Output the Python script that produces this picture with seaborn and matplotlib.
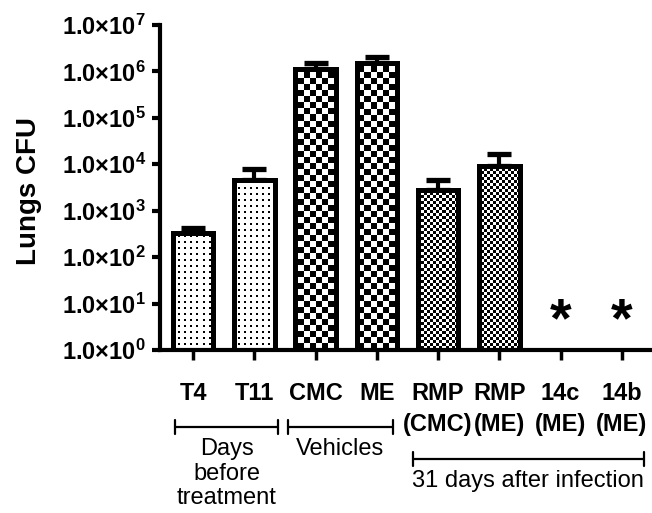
import numpy as np
import pandas as pd
import matplotlib.pyplot as plt
import matplotlib.transforms as mtransforms
from matplotlib.lines import Line2D
import seaborn as sns

# Data (lungs CFU, log scale)
groups = ['T4', 'T11', 'CMC', 'ME', 'RMP\n(CMC)', 'RMP\n(ME)', '14c\n(ME)', '14b\n(ME)']
cfu = [330, 4700, 1.15e6, 1.55e6, 2800, 9300, np.nan, np.nan]
cfu_upper = [430, 8000, 1.55e6, 2.0e6, 4500, 1.7e4, np.nan, np.nan]
fills = ['dots', 'dots', 'checker', 'checker', 'fine', 'fine', None, None]

# Groups with no detectable CFU (marked with an asterisk)
star_groups = [6, 7]
star_level = 2.0

# Group brackets under the axis: (first, last, label)
brackets = [
    (-0.29, 1.39, 'Days\nbefore\ntreatment'),
    (1.55, 3.26, 'Vehicles'),
    (3.59, 7.36, '31 days after infection'),
]

sns.set_style('ticks')
plt.rcParams['font.family'] = ['Liberation Sans', 'DejaVu Sans']
plt.rcParams['mathtext.fontset'] = 'custom'
plt.rcParams['mathtext.rm'] = 'Liberation Sans:bold'
plt.rcParams['mathtext.it'] = 'Liberation Sans:bold'
plt.rcParams['mathtext.bf'] = 'Liberation Sans:bold'
for key in ['text.color', 'axes.labelcolor', 'xtick.color', 'ytick.color', 'axes.edgecolor']:
    plt.rcParams[key] = 'black'

fig = plt.figure(figsize=(6.52, 5.13), dpi=100)
ax = fig.add_axes([160 / 652, 163 / 513, 490 / 652, 325 / 513])

df = pd.DataFrame({'group': groups, 'cfu': cfu})
sns.barplot(data=df, x='group', y='cfu', order=groups, ax=ax, color='white',
            saturation=1, width=0.66, edgecolor='black', linewidth=3.6, zorder=3)

# Upper error bars only
cfu_arr = np.array(cfu)
err_up = np.array(cfu_upper) - cfu_arr
ax.errorbar(np.arange(len(groups)), cfu_arr, yerr=[np.zeros(len(groups)), err_up],
            fmt='none', ecolor='black', elinewidth=3, capsize=8.5, capthick=3.8, zorder=1)

ax.set_yscale('log')


# Fill textures (dots / checkerboards) clipped to each bar
def texture(kind, w, h):
    yy, xx = np.indices((h, w))
    if kind == 'checker':
        black = (xx // 6 + yy // 6) % 2 == 0
    elif kind == 'fine':
        black = (xx // 3 + yy // 3) % 2 == 0
    else:
        black = (xx % 6 < 2) & (yy % 6 < 2)
    return np.where(black, 0.0, 1.0)


fig.canvas.draw()
w_px = int(round(ax.bbox.width))
h_px = int(round(ax.bbox.height))
for p in list(ax.patches):
    if not np.isfinite(p.get_height()):
        continue
    i = int(round(p.get_x() + p.get_width() / 2))
    if fills[i] is None:
        continue
    p.set_facecolor('none')
    im = ax.imshow(texture(fills[i], w_px, h_px), extent=(0, 1, 0, 1), transform=ax.transAxes,
                   aspect='auto', interpolation='nearest', cmap='gray', vmin=0, vmax=1, zorder=2)
    im.set_clip_path(p)

ax.set_xlim(-0.54, 7.46)
ax.set_ylim(1, 1e7)

# Axes styling
ticks = [10 ** k for k in range(8)]
ax.set_yticks(ticks)
ax.set_yticklabels([f'$1.0×10^{{{k}}}$' for k in range(8)])
ax.yaxis.set_minor_locator(plt.NullLocator())
ax.set_xticks(range(len(groups)))
ax.set_xticklabels(groups, fontweight='bold', linespacing=1.45)
ax.tick_params(axis='y', length=6, width=3, labelsize=17, pad=4)
ax.tick_params(axis='x', length=7, width=2.5, labelsize=17, pad=16)
ax.set_xlabel('')
ax.set_ylabel('Lungs CFU', fontsize=20, fontweight='bold')
ax.yaxis.set_label_coords(-0.24, 0.49)
sns.despine(ax=ax)
for side in ['left', 'bottom']:
    ax.spines[side].set_linewidth(3)

# Asterisks for groups below detection
for i in star_groups:
    ax.text(i, star_level, '*', ha='center', va='baseline', fontsize=40, fontweight='bold')

# Group brackets
trans = mtransforms.blended_transform_factory(ax.transData, ax.transAxes)
for k, (x0, x1, label) in enumerate(brackets):
    y = -0.335 if k == 2 else -0.237
    ax.add_line(Line2D([x0, x1], [y, y], transform=trans, color='black', lw=1.6, clip_on=False))
    for xe in (x0, x1):
        ax.add_line(Line2D([xe, xe], [y - 0.022, y + 0.022], transform=trans, color='black',
                           lw=1.6, clip_on=False))
    ax.text((x0 + x1) / 2, y - 0.035, label, transform=trans, ha='center', va='top',
            fontsize=17, linespacing=1.15)

fig.savefig('out.png', dpi=100)
